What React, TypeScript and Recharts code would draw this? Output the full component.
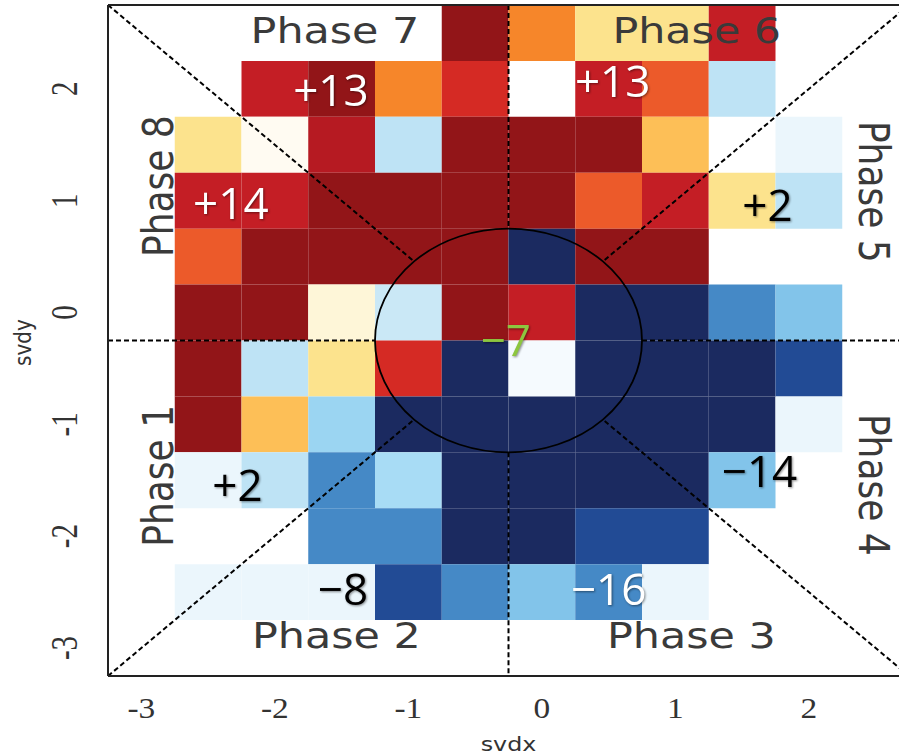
import { ScatterChart, Scatter, XAxis, YAxis, ReferenceArea, ReferenceLine } from "recharts";

// cell centres (svdx, svdy)
const xCells = [-2.5, -2, -1.5, -1, -0.5, 0, 0.5, 1, 1.5, 2];
const yCells = [2.5, 2, 1.5, 1, 0.5, 0, -0.5, -1, -1.5, -2, -2.5];

// anomaly level per cell, rows top→bottom, 0 = empty
const cellLevels = [
  [0, 0, 0, 0, 10, 5, 3, 3, 8, 0],
  [0, 8, 10, 5, 7, 0, 8, 6, -4, 0],
  [3, 1, 9, -4, 10, 10, 10, 4, 0, -2],
  [8, 8, 10, 10, 10, 10, 6, 8, 3, -4],
  [6, 10, 10, 10, 10, -10, 10, 10, 0, 0],
  [10, 10, 2, -3, 10, 8, -10, -10, -8, -7],
  [10, -4, 3, 7, -10, -1, -10, -10, -10, -9],
  [10, 4, -6, -10, -10, -10, -10, -10, -10, -2],
  [-2, -4, -8, -5, -10, -10, -10, -10, -7, 0],
  [0, 0, -8, -8, -10, -10, -9, -9, 0, 0],
  [-2, -2, -2, -9, -8, -7, -8, -2, 0, 0],
];

const blues = ["#F5FAFE", "#EBF6FC", "#CAE8F6", "#BEE3F5", "#A8DCF5", "#9BD5F2", "#82C4EA", "#4589C6", "#224B95", "#1B2A60"];
const reds = ["#FFFBF2", "#FEF6D8", "#FCE38D", "#FDBF57", "#F6862A", "#EC5A2A", "#D52A24", "#C41E25", "#B61A22", "#921518"];

const xTicks = [-3, -2, -1, 0, 1, 2];
const yTicks = [-3, -2, -1, 0, 1, 2];

const phaseLabels = [
  { x: -2.88, y: -1.46, text: "Phase 1", rotate: -90 },
  { x: -1.54, y: -2.88, text: "Phase 2", rotate: 0 },
  { x: 1.12, y: -2.88, text: "Phase 3", rotate: 0 },
  { x: 2.49, y: -1.54, text: "Phase 4", rotate: 90 },
  { x: 2.49, y: 1.08, text: "Phase 5", rotate: 90 },
  { x: 1.16, y: 2.53, text: "Phase 6", rotate: 0 },
  { x: -1.55, y: 2.53, text: "Phase 7", rotate: 0 },
  { x: -2.88, y: 1.13, text: "Phase 8", rotate: -90 },
];

const anomalyLabels = [
  { x: -2.28, y: -1.54, text: "+2", color: "#000" },
  { x: -1.49, y: -2.47, text: "\u22128", color: "#000" },
  { x: 0.5, y: -2.47, text: "\u221216", color: "#fff" },
  { x: 1.63, y: -1.42, text: "\u221214", color: "#000" },
  { x: 1.69, y: 0.96, text: "+2", color: "#000" },
  { x: 0.53, y: 2.07, text: "+13", color: "#fff" },
  { x: -1.58, y: 1.99, text: "+13", color: "#fff" },
  { x: -2.33, y: 0.98, text: "+14", color: "#fff" },
  { x: -0.27, y: -0.25, text: "\u22127", color: "#8DC63F" },
];

const lo = -3.25;
const hi = 2.75;
const c = -0.25;
const r = 1;
const d = r * Math.SQRT1_2;

const dashedSegments = [
  [{ x: c, y: hi }, { x: c, y: c + r }],
  [{ x: c, y: c - r }, { x: c, y: lo }],
  [{ x: lo, y: c }, { x: c - r, y: c }],
  [{ x: c + r, y: c }, { x: hi, y: c }],
  [{ x: lo, y: hi }, { x: c - d, y: c + d }],
  [{ x: hi, y: hi }, { x: c + d, y: c + d }],
  [{ x: lo, y: lo }, { x: c - d, y: c - d }],
  [{ x: hi, y: lo }, { x: c + d, y: c - d }],
];

const colorFor = (v: number) => (v > 0 ? reds[v - 1] : blues[-v - 1]);

const XTick = ({ x, y, payload }: any) => (
  <g transform={`translate(${x},${y}) scale(1.15,1)`}>
    <text y={42} textAnchor="middle" fontFamily="'Liberation Serif', serif" fontSize={29} fill="#333">
      {payload.value}
    </text>
  </g>
);

const YTick = ({ x, y, payload }: any) => (
  <g transform={`translate(${x - 44},${y}) scale(1.3,1) rotate(-90)`}>
    <text dy="0.35em" textAnchor="middle" fontFamily="'Liberation Serif', serif" fontSize={29} fill="#333">
      {payload.value}
    </text>
  </g>
);

const XTitle = (props: any) => {
  const vb = props.viewBox || { x: 108, y: 676, width: 801 };
  return (
    <g transform={`translate(${vb.x + vb.width / 2},${vb.y + 75}) scale(1.19,1)`}>
      <text textAnchor="middle" fontFamily="'DejaVu Sans', sans-serif" fontSize={20} fill="#333">
        svdx
      </text>
    </g>
  );
};

const YTitle = (props: any) => {
  const vb = props.viewBox || { x: 0, y: 5, height: 671 };
  return (
    <g transform={`translate(31,${vb.y + vb.height / 2 + 2}) scale(1.19,1) rotate(-90)`}>
      <text textAnchor="middle" fontFamily="'DejaVu Sans', sans-serif" fontSize={20} fill="#333">
        svdy
      </text>
    </g>
  );
};

const PhaseShape = ({ cx, cy, payload }: any) => (
  <g transform={`translate(${cx},${cy}) scale(1.19,1) rotate(${payload.rotate})`}>
    <text dy="0.36em" textAnchor="middle" fontFamily="'DejaVu Sans', sans-serif" fontSize={36} fill="#3a3a3a">
      {payload.text}
    </text>
  </g>
);

const AnomalyShape = ({ cx, cy, payload }: any) => (
  <text
    x={cx}
    y={cy}
    dy="0.36em"
    textAnchor="middle"
    fontFamily="'Open Sans', sans-serif"
    fontSize={44}
    fill={payload.color}
    style={{ filter: "drop-shadow(1px 1px 1px rgba(0,0,0,0.45))" }}
  >
    {payload.text}
  </text>
);

const Ellipse = ({ x, y, width, height }: any) => (
  <ellipse cx={x + width / 2} cy={y + height / 2} rx={width / 2} ry={height / 2} fill="none" stroke="#000" strokeWidth={1.8} />
);

export default function App() {
  return (
    <div style={{ position: "absolute", left: 0, top: 0, width: 899, height: 756, overflow: "hidden", background: "#fff" }}>
      <ScatterChart width={920} height={756} margin={{ top: 5, right: 11, bottom: 0, left: 0 }}>
        <XAxis
          type="number"
          dataKey="x"
          domain={[lo, hi]}
          ticks={xTicks}
          tick={<XTick />}
          tickLine={false}
          tickSize={0}
          tickMargin={0}
          height={80}
          axisLine={{ stroke: "#222", strokeWidth: 2 }}
          label={XTitle}
          allowDataOverflow
        />
        <YAxis
          type="number"
          dataKey="y"
          domain={[lo, hi]}
          ticks={yTicks}
          tick={<YTick />}
          tickLine={false}
          tickSize={0}
          tickMargin={0}
          width={108}
          axisLine={{ stroke: "#222", strokeWidth: 2 }}
          label={YTitle}
          allowDataOverflow
        />
        {yCells.map((yv, ri) =>
          xCells.map((xv, ci) => {
            const v = cellLevels[ri][ci];
            if (!v) return null;
            return (
              <ReferenceArea
                key={`cell-${ri}-${ci}`}
                x1={xv - 0.25}
                x2={xv + 0.25}
                y1={yv - 0.25}
                y2={yv + 0.25}
                fill={colorFor(v)}
                fillOpacity={1}
                stroke="none"
              />
            );
          })
        )}
        <ReferenceArea x1={c - r} x2={c + r} y1={c - r} y2={c + r} shape={Ellipse} />
        {dashedSegments.map((seg, i) => (
          <ReferenceLine key={`seg-${i}`} segment={seg} stroke="#000" strokeWidth={2} strokeDasharray="5 3" />
        ))}
        <ReferenceLine y={hi} stroke="#222" strokeWidth={2} />
        <Scatter data={phaseLabels} shape={PhaseShape} isAnimationActive={false} />
        <Scatter data={anomalyLabels} shape={AnomalyShape} isAnimationActive={false} />
      </ScatterChart>
    </div>
  );
}
